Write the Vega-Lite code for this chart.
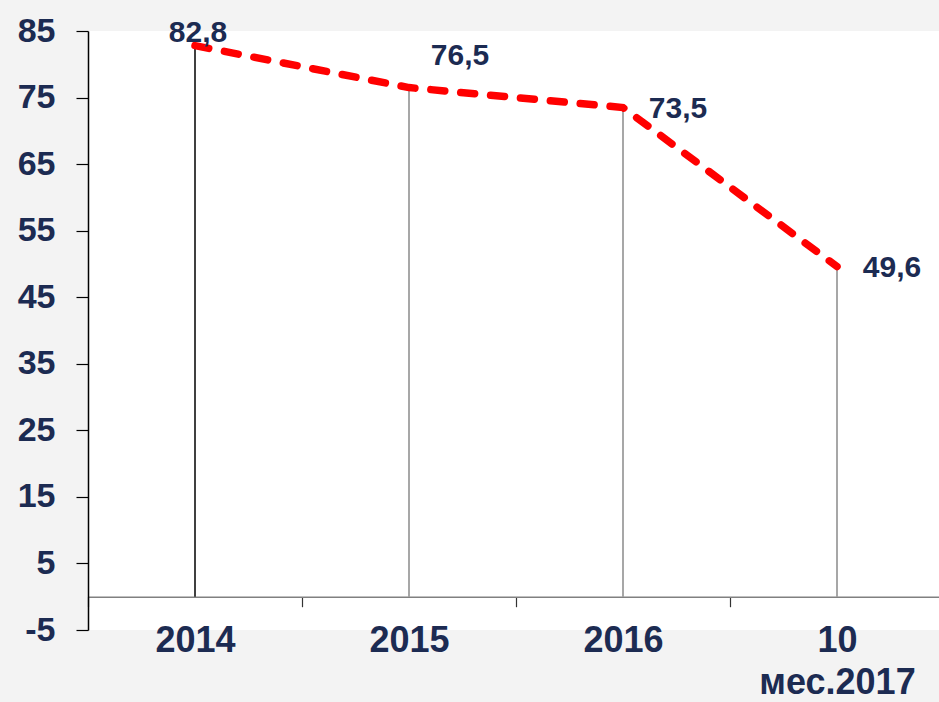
{
  "$schema": "https://vega.github.io/schema/vega-lite/v6.json",
  "autosize": "none",
  "width": 851,
  "height": 599,
  "padding": {"left": 88, "top": 31, "right": 0, "bottom": 72},
  "background": "#f3f3f3",
  "config": {
    "view": {"stroke": null, "fill": "#ffffff"},
    "font": "Liberation Sans",
    "locale": {"number": {"decimal": ",", "thousands": " ", "grouping": [3], "currency": ["", ""], "minus": "-"}}
  },
  "data": {
    "values": [
      {"period": "2014", "value": 82.8},
      {"period": "2015", "value": 76.5},
      {"period": "2016", "value": 73.5},
      {"period": "10 мес.2017", "value": 49.6}
    ]
  },
  "encoding": {
    "x": {
      "field": "period", "type": "nominal", "sort": null,
      "scale": {"range": [0, 856], "paddingInner": 0, "paddingOuter": 0},
      "axis": {
        "title": null, "offset": -33.3, "labelAngle": 0,
        "domainColor": "#808080", "domainWidth": 1.5,
        "tickBand": "extent", "tickColor": "#333333", "tickSize": 10, "tickWidth": 1.2,
        "labelFont": "Liberation Sans", "labelFontSize": 36, "labelFontWeight": "bold",
        "labelColor": "#1c2b52", "labelPadding": 17, "labelLineHeight": 42,
        "labelExpr": "split(datum.label, ' ')"
      }
    },
    "y": {
      "field": "value", "type": "quantitative",
      "scale": {"domain": [-5, 85], "nice": false, "zero": false},
      "axis": {
        "title": null, "values": [-5, 5, 15, 25, 35, 45, 55, 65, 75, 85], "format": "d",
        "grid": false, "domainColor": "#000000", "domainWidth": 1.5,
        "tickColor": "#000000", "tickSize": 12, "tickWidth": 1.2,
        "labelFont": "Liberation Sans", "labelFontSize": 34, "labelFontWeight": "bold",
        "labelColor": "#1c2b52", "labelPadding": 21
      }
    }
  },
  "layer": [
    {
      "mark": {"type": "rule", "strokeWidth": 1.5},
      "encoding": {
        "y": {"datum": 0},
        "y2": {"field": "value"},
        "color": {"condition": {"test": "datum.period === '2014'", "value": "#000000"}, "value": "#8a8a8a"}
      }
    },
    {
      "mark": {"type": "line", "color": "#ff0000", "strokeWidth": 7.5, "strokeDash": [14, 16], "strokeCap": "round"},
      "encoding": {}
    },
    {
      "transform": [{"filter": "datum.period === '2014'"}],
      "mark": {"type": "text", "dx": 3, "dy": -13, "fontSize": 30, "fontWeight": "bold", "color": "#1c2b52", "baseline": "middle", "align": "center"},
      "encoding": {"text": {"field": "value", "type": "quantitative", "format": ".1f"}}
    },
    {
      "transform": [{"filter": "datum.period === '2015'"}],
      "mark": {"type": "text", "dx": 51, "dy": -32, "fontSize": 30, "fontWeight": "bold", "color": "#1c2b52", "baseline": "middle", "align": "center"},
      "encoding": {"text": {"field": "value", "type": "quantitative", "format": ".1f"}}
    },
    {
      "transform": [{"filter": "datum.period === '2016' || datum.period === '10 мес.2017'"}],
      "mark": {"type": "text", "dx": 55, "dy": 1, "fontSize": 30, "fontWeight": "bold", "color": "#1c2b52", "baseline": "middle", "align": "center"},
      "encoding": {"text": {"field": "value", "type": "quantitative", "format": ".1f"}}
    }
  ]
}
